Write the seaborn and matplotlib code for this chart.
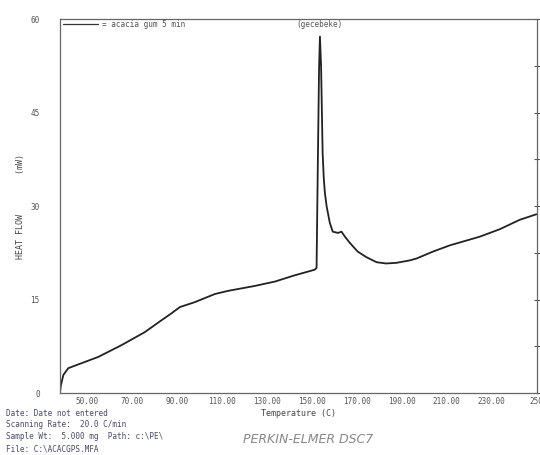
import numpy as np
import pandas as pd
import matplotlib
matplotlib.use('Agg')
import matplotlib.pyplot as plt
import seaborn as sns

# DSC trace (Temperature C, Heat flow mW)
temperature = [38.0, 38.4, 39.5, 41.7, 47.6, 55.0, 65.4, 75.8, 83.2, 87.6, 91.3,
               98.0, 106.9, 112.7, 124.7, 133.6, 142.4, 151.3, 152.1, 152.6,
               153.2, 153.6, 154.1, 154.8, 155.3, 155.8, 156.6, 158.0, 159.3,
               161.6, 163.2, 164.7, 166.9, 170.4, 174.3, 178.8, 183.0, 187.6,
               193.6, 196.6, 203.8, 211.3, 224.7, 233.6, 242.4, 249.9]
heat_flow = [0.0, 1.2, 2.9, 4.0, 4.8, 5.8, 7.7, 9.8, 11.7, 12.8, 13.8,
             14.6, 15.9, 16.4, 17.2, 17.9, 18.9, 19.8, 20.1, 35.0,
             52.0, 57.2, 52.5, 38.5, 34.5, 32.1, 29.9, 27.3, 25.9,
             25.7, 25.9, 25.1, 24.1, 22.7, 21.8, 21.0, 20.8, 20.9,
             21.3, 21.6, 22.7, 23.7, 25.1, 26.3, 27.8, 28.7]

x_ticks = [50, 70, 90, 110, 130, 150, 170, 190, 210, 230, 250]
x_tick_labels = ['50.00', '70.00', '90.00', '110.00', '130.00', '150.00',
                 '170.00', '190.00', '210.00', '230.00', '250']
y_ticks = [0, 15, 30, 45, 60]

df = pd.DataFrame({'T': temperature, 'Q': heat_flow})

sns.set_style('white')
plt.rcParams['font.family'] = ['DejaVu Sans Mono']

fig = plt.figure(figsize=(5.4, 4.55), dpi=100)
ax = fig.add_axes([0.111, 0.136, 0.883, 0.822])

sns.lineplot(data=df, x='T', y='Q', sort=False, color='#222222', linewidth=1.3, ax=ax)

ax.set_xlim(38, 250)
ax.set_ylim(0, 60)
ax.set_xticks(x_ticks)
ax.set_xticklabels(x_tick_labels, fontsize=5.5, color='#555555')
ax.set_yticks(y_ticks)
ax.set_yticklabels([str(v) for v in y_ticks], fontsize=5.5, color='#555555')
ax.set_yticks(np.arange(0, 61, 7.5), minor=True)
ax.tick_params(axis='y', which='both', direction='inout', length=5, width=0.8,
               color='#555555', right=True, pad=12)
ax.tick_params(axis='x', length=0, pad=3)

for s in ax.spines.values():
    s.set_color('#666666')
    s.set_linewidth(0.9)

ax.set_xlabel('Temperature (C)', fontsize=6, color='#444444', labelpad=2)
ax.set_ylabel('HEAT FLOW        (mW)', fontsize=6, color='#444444', labelpad=4)

# legend entry and peak annotation at the top
ax.plot([39.5, 55], [59.2, 59.2], color='#333333', linewidth=0.9)
ax.text(56.5, 59.2, '= acacia gum 5 min', fontsize=5.5, color='#555555', va='center')
ax.text(153.2, 59.2, '(gecebeke)', fontsize=5.5, color='#555555', va='center', ha='center')

# instrument footer
info = ['Date: Date not entered',
        'Scanning Rate:  20.0 C/min',
        'Sample Wt:  5.000 mg  Path: c:\\PE\\',
        'File: C:\\ACACGPS.MFA']
for i, line in enumerate(info):
    fig.text(0.012, 0.092 - i * 0.026, line, fontsize=5.5, color='#4a4a6a', va='center')
fig.text(0.57, 0.035, 'PERKIN-ELMER DSC7', fontsize=9, color='#888888',
         style='italic', family='DejaVu Sans', ha='center', va='center')

fig.savefig('out.png', dpi=100)
